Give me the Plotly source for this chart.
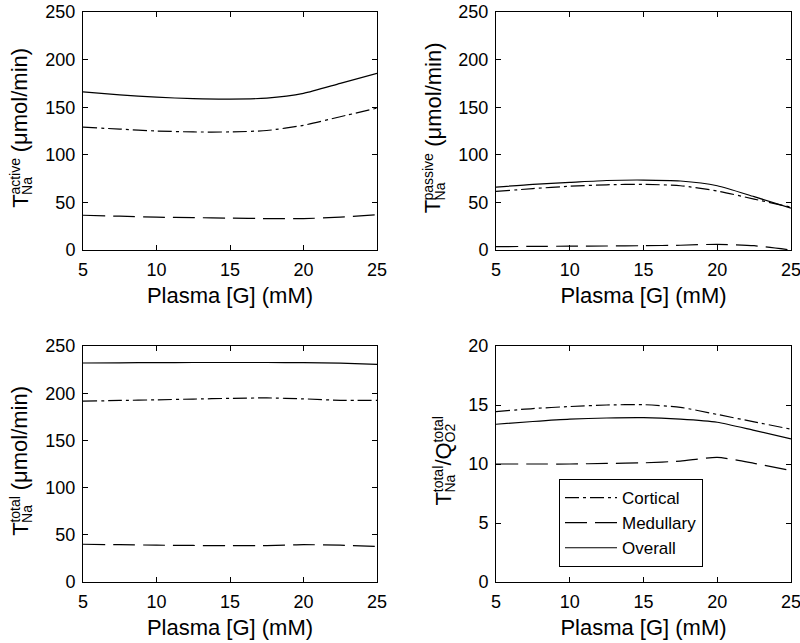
import plotly.graph_objects as go

# ---------------- data ----------------
glucose = [5, 7.5, 10, 12.5, 15, 17.5, 20, 22.5, 25]
series_names = ["Cortical", "Medullary", "Overall"]

active_cortical = [129, 127, 125, 124, 124, 125.5, 131, 140, 149]
active_medullary = [36.5, 35.5, 34.5, 34, 33.5, 33, 33, 34.5, 37]
active_overall = [166, 163, 160.5, 159, 158.5, 159.5, 164.5, 175, 185.5]

passive_cortical = [61.5, 64.5, 67, 68.5, 69, 67.5, 62, 53.5, 45]
passive_medullary = [3.5, 3.8, 4, 4.2, 4.5, 5, 6, 4.5, 0]
passive_overall = [66, 69, 71, 73, 73.5, 72.5, 67.5, 56, 44]

total_cortical = [191.5, 192.3, 193, 193.8, 194.5, 195, 194, 192.5, 192.5]
total_medullary = [40, 39.5, 39, 38.7, 38.5, 38.5, 39.5, 39, 37.7]
total_overall = [232, 232.2, 232.4, 232.5, 232.5, 232.5, 232.3, 231.8, 230.5]

ratio_cortical = [14.44, 14.7, 14.87, 15.0, 15.03, 14.8, 14.2, 13.57, 12.95]
ratio_medullary = [10.0, 10.0, 10.0, 10.05, 10.1, 10.25, 10.56, 10.06, 9.44]
ratio_overall = [13.37, 13.6, 13.8, 13.9, 13.93, 13.8, 13.54, 12.85, 12.13]

x_ticks = [5, 10, 15, 20, 25]
flux_ticks = [0, 50, 100, 150, 200, 250]
ratio_ticks = [0, 5, 10, 15, 20]
x_title = "Plasma [G] (mM)"

# ---------------- styling / layout ----------------
W, H = 800, 643
FONT = "Liberation Sans, Arial, Helvetica, sans-serif"
dash_styles = {"Cortical": "14px,4px,3px,4px", "Medullary": "22px,8px", "Overall": "solid"}

panels = [
    # (axis suffix, series list, y range, y ticks, domain px (x0,x1,ytop,ybot))
    ("", [active_cortical, active_medullary, active_overall], [0, 250], flux_ticks, (83, 377, 12, 250)),
    ("2", [passive_cortical, passive_medullary, passive_overall], [0, 250], flux_ticks, (496, 791, 12, 250)),
    ("3", [total_cortical, total_medullary, total_overall], [0, 250], flux_ticks, (83, 377, 346, 582)),
    ("4", [ratio_cortical, ratio_medullary, ratio_overall], [0, 20], ratio_ticks, (496, 791, 346, 582)),
]

fig = go.Figure()

axis_common = dict(
    showline=True, linecolor="black", linewidth=1, mirror="ticks",
    ticks="inside", ticklen=5, tickwidth=1, tickcolor="black",
    showgrid=False, zeroline=False, automargin=False, ticklabeloverflow="allow",
    tickfont=dict(family=FONT, size=18, color="black"),
)

layout_axes = {}
for i, (suf, data, yr, yt, (x0, x1, yt_px, yb_px)) in enumerate(panels):
    for name, vals in zip(series_names, data):
        fig.add_trace(go.Scatter(
            x=glucose, y=vals, mode="lines", name=name,
            line=dict(color="black", width=1.2, dash=dash_styles[name], shape="spline", smoothing=0.6),
            xaxis="x" + suf, yaxis="y" + suf,
            showlegend=(suf == "4"),
        ))
    layout_axes["xaxis" + suf] = dict(
        axis_common, domain=[x0 / W, x1 / W], range=[5, 25], tickvals=x_ticks,
        anchor="y" + suf, ticklabelstandoff=3,
        title=dict(text=x_title, font=dict(family=FONT, size=22, color="black"), standoff=9),
    )
    layout_axes["yaxis" + suf] = dict(
        axis_common, domain=[1 - yb_px / H, 1 - yt_px / H], range=yr, tickvals=yt,
        anchor="x" + suf, ticklabelstandoff=3,
    )

fig.update_layout(**layout_axes)

# ---------------- stacked TeX-like y labels as rotated annotations ----------------
CW = {"T": .611, "N": .722, "a": .556, "c": .5, "t": .278, "i": .222, "v": .5, "e": .556,
      "p": .556, "s": .5, "o": .556, "l": .222, "Q": .778, "O": .778, "2": .556, "/": .278,
      " ": .278, "(": .333, ")": .333, "μ": .576, "m": .833, "n": .556}


def tw(text, fs):
    return sum(CW.get(c, .556) for c in text) * fs


FS_MAIN, FS_SMALL = 22, 14


def ylabel(segments, base_x, yc):
    # segments: ("m", text) main, ("ss", sup, sub), ("gap", text)
    widths = []
    for seg in segments:
        if seg[0] == "m" or seg[0] == "gap":
            widths.append(tw(seg[1], FS_MAIN))
        else:
            widths.append(max(tw(seg[1], FS_SMALL), tw(seg[2], FS_SMALL)))
    L = sum(widths)
    cur = yc + L / 2 - 3
    anns = []
    for seg, w in zip(segments, widths):
        if seg[0] == "m":
            anns.append((seg[1], FS_MAIN, base_x - 0.35 * FS_MAIN, cur - w / 2))
        elif seg[0] == "ss":
            ws, wb = tw(seg[1], FS_SMALL), tw(seg[2], FS_SMALL)
            anns.append((seg[1], FS_SMALL, base_x - 8 - 0.35 * FS_SMALL, cur - ws / 2))
            anns.append((seg[2], FS_SMALL, base_x + 4 - 0.35 * FS_SMALL, cur - wb / 2))
        cur -= w
    out = []
    for text, fs, cx, cy in anns:
        out.append(dict(
            text=text, x=cx / W, y=1 - cy / H, xref="paper", yref="paper",
            xanchor="center", yanchor="middle", textangle=-90, showarrow=False,
            font=dict(family=FONT, size=fs, color="black"),
        ))
    return out


unit = "(μmol/min)"
annotations = []
annotations += ylabel([("m", "T"), ("ss", "active", "Na"), ("gap", " "), ("m", unit)], 28, 131)
annotations += ylabel([("m", "T"), ("ss", "passive", "Na"), ("gap", " "), ("m", unit)], 441, 131)
annotations += ylabel([("m", "T"), ("ss", "total", "Na"), ("gap", " "), ("m", unit)], 28, 464)
annotations += ylabel([("m", "T"), ("ss", "total", "Na"), ("m", "/Q"), ("ss", "total", "O2")], 451, 464)

fig.update_layout(
    width=W, height=H,
    margin=dict(l=0, r=0, t=0, b=0),
    paper_bgcolor="white", plot_bgcolor="white",
    font=dict(family=FONT, color="black"),
    annotations=annotations,
    legend=dict(
        x=559 / W, y=1 - 523 / H, xanchor="left", yanchor="middle",
        bgcolor="white", bordercolor="black", borderwidth=1,
        font=dict(family=FONT, size=17, color="black"),
        tracegroupgap=0, traceorder="normal",
        itemwidth=52, entrywidth=118,
    ),
)

fig.write_html(
    "out.html",
    config={"displayModeBar": False},
    post_script="document.body.style.margin='0';document.body.style.overflow='hidden';",
)
